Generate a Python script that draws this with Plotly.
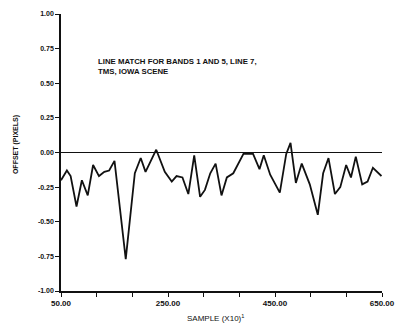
import plotly.graph_objects as go

sample = [50, 61, 68, 79, 89, 100, 110, 121, 131, 140, 150, 171, 188, 199, 208, 228, 244,
          257, 266, 277, 288, 299, 310, 319, 329, 339, 350, 360, 372, 391, 409, 421, 429,
          441, 459, 471, 479, 489, 500, 515, 530, 540, 550, 562, 572, 583, 592, 601, 613,
          623, 633, 649]
offset = [-0.20, -0.13, -0.17, -0.39, -0.20, -0.31, -0.09, -0.17, -0.14, -0.13, -0.06, -0.77,
          -0.15, -0.04, -0.14, 0.02, -0.14, -0.21, -0.17, -0.18, -0.30, -0.02, -0.32, -0.27,
          -0.15, -0.08, -0.31, -0.18, -0.15, -0.01, -0.01, -0.12, -0.02, -0.16, -0.29, -0.01,
          0.07, -0.22, -0.08, -0.23, -0.45, -0.15, -0.04, -0.30, -0.25, -0.09, -0.18, -0.03,
          -0.23, -0.21, -0.11, -0.17]

x_ticks = [50, 250, 450, 650]
x_tick_text = ["50.00", "250.00", "450.00", "650.00"]
y_ticks = [-1.0, -0.75, -0.5, -0.25, 0.0, 0.25, 0.5, 0.75, 1.0]
y_tick_text = ["-1.00", "-0.75", "-0.50", "-0.25", "0.00", "0.25", "0.50", "0.75", "1.00"]

title_lines = ["LINE MATCH FOR BANDS 1 AND 5, LINE 7,", "TMS, IOWA SCENE"]
x_title = "SAMPLE (X10)<sup>1</sup>"
y_title = "OFFSET (PIXELS)"

font_family = "Liberation Sans, Arial, sans-serif"

fig = go.Figure()
fig.add_trace(go.Scatter(x=sample, y=offset, mode="lines",
                         line=dict(color="#111111", width=1.8), showlegend=False))

fig.update_layout(
    width=397, height=328,
    margin=dict(l=61, r=15, t=14, b=37),
    paper_bgcolor="white", plot_bgcolor="white",
    font=dict(family=font_family, color="#111111", size=7),
    xaxis=dict(range=[50, 650], tickvals=x_ticks, automargin=False,
               ticktext=["<b>" + t + "</b>" for t in x_tick_text],
               showgrid=False, zeroline=False, showline=True, linecolor="#111111",
               linewidth=1.5, ticks="outside", ticklen=4, tickwidth=1, tickcolor="#111111",
               tickfont=dict(size=8, family=font_family),
               minor=dict(tick0=50, dtick=200 / 3, ticks="outside", ticklen=4, tickwidth=1,
                          tickcolor="#111111", showgrid=False)),
    yaxis=dict(range=[-1, 1], tickvals=y_ticks, automargin=False,
               ticktext=["<b>" + t + "</b>" for t in y_tick_text],
               showgrid=False, zeroline=True, zerolinecolor="#111111", zerolinewidth=1.2,
               showline=True, linecolor="#111111", linewidth=1.5,
               ticks="outside", ticklen=4, tickwidth=1, tickcolor="#111111",
               tickfont=dict(size=7, family=font_family)),
    annotations=[
        dict(x=0.11, y=0.77, xref="paper", yref="paper", xanchor="left", yanchor="bottom",
             text="<b>" + "<br>".join(title_lines) + "</b>", showarrow=False, align="left",
             font=dict(size=7.8, family=font_family)),
        dict(x=0.48, y=-0.097, xref="paper", yref="paper", xanchor="center", yanchor="middle",
             text=x_title, showarrow=False, font=dict(size=8, family=font_family)),
        dict(x=-0.14, y=0.527, xref="paper", yref="paper", xanchor="center", yanchor="middle",
             text="<b>" + y_title + "</b>", textangle=-90, showarrow=False,
             font=dict(size=7, family=font_family)),
    ],
)

fig.write_html("out.html")
